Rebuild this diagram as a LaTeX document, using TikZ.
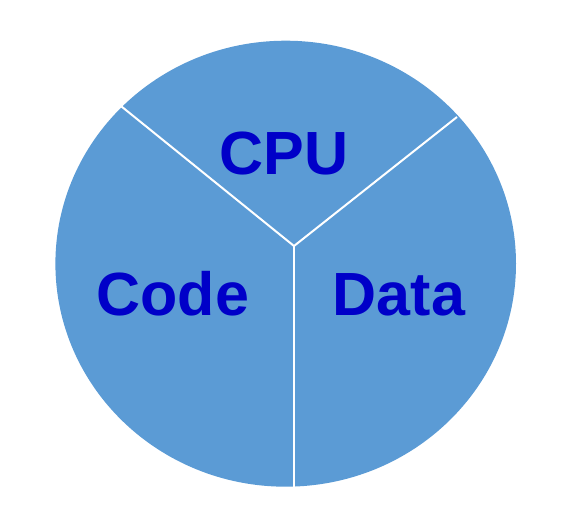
\documentclass[tikz,border=0pt]{standalone}
\usepackage{fontspec}
\setmainfont{Liberation Sans}
\definecolor{pie}{HTML}{5B9BD5}
\definecolor{lbl}{HTML}{0000C8}
\begin{document}
\begin{tikzpicture}[x=1pt,y=-1pt,
  lab/.style={anchor=base,inner sep=0pt,text=lbl,font=\fontsize{61}{70}\selectfont\bfseries},
  divider/.style={draw=white,line width=2pt}]
\useasboundingbox (0,0) rectangle (570,529);
\fill[pie] (285.7,263.7) ellipse [x radius=230.3, y radius=223];
\coordinate (v) at (294,246);
\coordinate (ul) at (121.5,106.5);
\coordinate (ur) at (457,117);
\coordinate (bt) at (294,486.6);
\draw[divider] (v) -- (ul);
\draw[divider] (v) -- (ur);
\draw[divider] (v) -- (bt);
\node[lab] (cpu) at (284,175) {CPU};
\node[lab] (code) at (172.7,315) {Code};
\node[lab] (data) at (399,315) {Data};
\end{tikzpicture}
\end{document}
